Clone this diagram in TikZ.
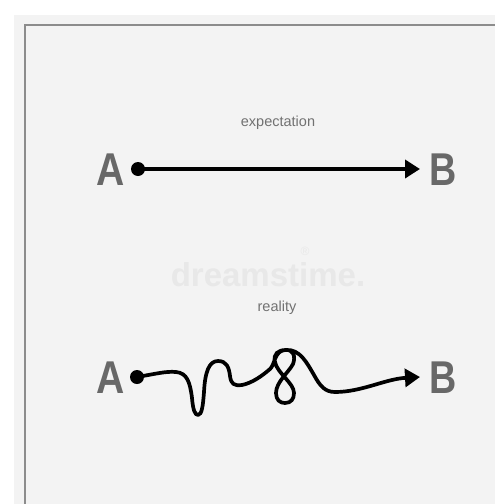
\documentclass[tikz,border=0pt]{standalone}
\usepackage{fontspec}
\setmainfont{Liberation Sans}
\usetikzlibrary{arrows.meta}
\definecolor{panel}{HTML}{F3F3F3}
\definecolor{frame}{HTML}{8C8C8C}
\definecolor{label}{HTML}{686868}
\definecolor{small}{HTML}{717171}
\definecolor{wm}{HTML}{E8E8E8}
\begin{document}
\begin{tikzpicture}[x=1pt,y=-1pt,
  letter/.style={font=\fontsize{46}{46}\selectfont\bfseries, text=label, inner sep=0pt, anchor=base},
  caption/.style={font=\fontsize{14.5}{16}\selectfont, text=small, inner sep=0pt, anchor=base},
  dotnode/.style={circle, fill=black, minimum size=14pt, inner sep=0pt},
  conn/.style={line width=3.7pt, black, line cap=round, line join=round, -{Triangle[length=15pt,width=18pt]}},
]
\useasboundingbox (0,0) rectangle (495,504);
\fill[white] (0,0) rectangle (495,504);
\fill[panel] (14,15) rectangle (495,504);
\draw[frame, line width=2pt] (25,506) -- (25,25) -- (497,25);

% watermark
\node[font=\fontsize{33}{33}\selectfont\bfseries, text=wm, inner sep=0pt, anchor=base] (wm) at (268,286) {dreamstime.};
\node[font=\fontsize{12}{12}\selectfont, text=wm, inner sep=0pt] (reg) at (305,251) {®};

% expectation
\node[caption] (cap1) at (278,126) {expectation};
\node[letter] (A1) at (111,185) {\scalebox{0.85}[1]{A}};
\node[letter] (B1) at (443.5,185) {\scalebox{0.82}[1]{B}};
\node[dotnode] (dotA1) at (138,169) {};
\coordinate (tipB1) at (420,169);
\draw[conn] (dotA1.center) -- (tipB1);

% reality
\node[caption] (cap2) at (277,311) {reality};
\node[letter] (A2) at (111,393) {\scalebox{0.85}[1]{A}};
\node[letter] (B2) at (443.5,393) {\scalebox{0.82}[1]{B}};
\node[dotnode] (dotA2) at (137,377) {};
\coordinate (tipB2) at (420,377);
\draw[conn] (dotA2.center)
  .. controls (155,374) and (166,371) .. (176,372)
  .. controls (187,373) and (190,382) .. (192,398)
  .. controls (193,410) and (195,415) .. (198,415)
  .. controls (202,415) and (203,405) .. (204,392)
  .. controls (205,372) and (209,361) .. (218,361)
  .. controls (227,361) and (229,368) .. (230,376)
  .. controls (231,384) and (234,386) .. (242,385)
  .. controls (252,383) and (262,376) .. (270,369)
  .. controls (275,365) and (274,351) .. (285,350)
  .. controls (293,349) and (296,356) .. (293,364)
  .. controls (289,372) and (276,382) .. (276,393)
  .. controls (276,400) and (280,403) .. (285,403)
  .. controls (291,403) and (294,399) .. (294,393)
  .. controls (294,383) and (277,373) .. (275,362)
  .. controls (273,354) and (278,350) .. (286,350)
  .. controls (300,349) and (307,363) .. (314,375)
  .. controls (320,386) and (325,392) .. (335,392)
  .. controls (362,392) and (385,379) .. (tipB2);
\end{tikzpicture}
\end{document}
